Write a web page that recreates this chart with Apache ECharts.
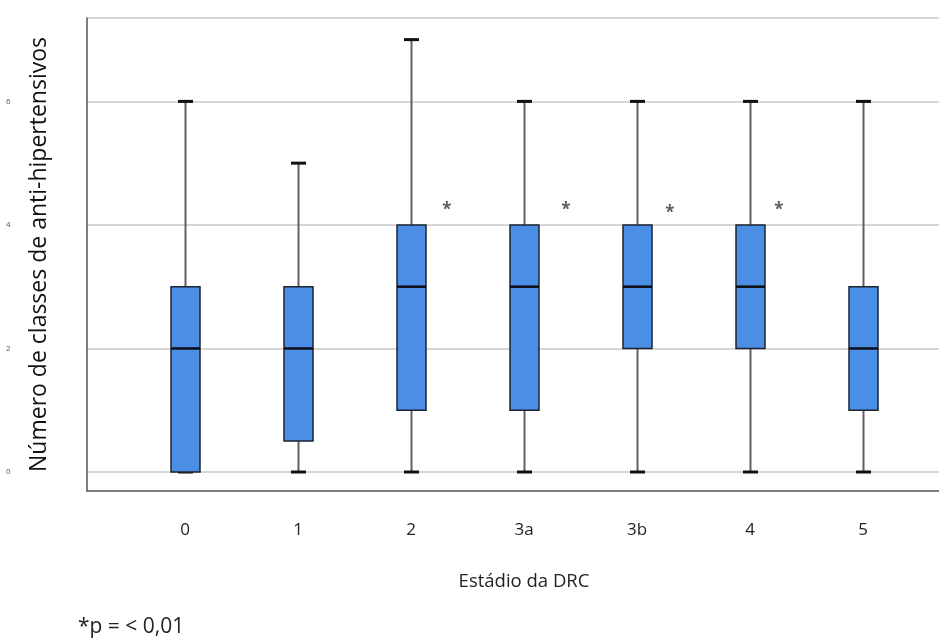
<!DOCTYPE html>
<html><head><meta charset="utf-8">
<script src="https://cdn.jsdelivr.net/npm/echarts@6/dist/echarts.min.js"></script>
<style>html,body{margin:0;padding:0;background:#fff}#c{width:939px;height:643px}</style>
</head><body><div id="c"></div>
<script>
var categories = ['0', '1', '2', '3a', '3b', '4', '5'];
var mins    = [0, 0,   0, 0, 0, 0, 0];
var q1s     = [0, 0.5, 1, 1, 2, 2, 1];
var medians = [2, 2,   3, 3, 3, 3, 2];
var q3s     = [3, 3,   4, 4, 4, 4, 3];
var maxs    = [6, 5,   7, 6, 6, 6, 6];
var starCats = ['2', '3a', '3b', '4'];
var starVals = [4.3, 4.3, 4.25, 4.3];
var yTicks = [0, 2, 4, 6];

var boxData = categories.map(function (c, i) { return [i, mins[i], q1s[i], medians[i], q3s[i], maxs[i]]; });
var starData = starCats.map(function (c, i) { return [c, starVals[i]]; });
var starOffsets = [[36, 4], [42, 4], [33, 4], [29, 4]];

var chart = echarts.init(document.getElementById('c'));
var font = '"Open Sans", "Noto Sans", sans-serif';
chart.setOption({
  animation: false,
  grid: [
    {left: 87, right: 0, top: 18, bottom: 171},
    {left: 87, right: 0, top: 18, bottom: 152},
    {left: 128.5, width: 791, top: 18, bottom: 171}
  ],
  xAxis: [
    {gridIndex: 0, type: 'value', show: false, min: 0, max: 1},
    {gridIndex: 1, type: 'value', min: 0, max: 1, axisLine: {show: true, lineStyle: {color: '#555', width: 1.5}},
     axisTick: {show: false}, axisLabel: {show: false}, splitLine: {show: false}},
    {gridIndex: 2, type: 'category', data: categories, boundaryGap: true,
     axisLine: {show: false}, axisTick: {show: false},
     axisLabel: {margin: 50, fontSize: 17, color: '#222', fontFamily: font},
     name: 'Estádio da DRC', nameLocation: 'middle', nameGap: 100,
     nameTextStyle: {fontSize: 18.5, color: '#222', fontFamily: font}}
  ],
  yAxis: [
    {gridIndex: 0, type: 'value', min: 0, max: 7.35, interval: 2,
     axisLine: {show: false}, axisTick: {show: false},
     axisLabel: {fontSize: 8, color: '#555', margin: 81, align: 'left', fontFamily: font,
       formatter: function (v) { return yTicks.indexOf(v) >= 0 ? String(v) : ''; }},
     splitLine: {show: true, lineStyle: {color: '#c8c8c8', width: 1.5}}},
    {gridIndex: 1, type: 'value', min: 0, max: 1,
     axisLine: {show: true, lineStyle: {color: '#555', width: 1.5}},
     axisTick: {show: false}, axisLabel: {show: false}, splitLine: {show: false},
     name: 'Número de classes de anti-hipertensivos', nameLocation: 'middle', nameGap: 36, nameRotate: 90,
     nameTextStyle: {fontSize: 23, color: '#111', fontFamily: font}},
    {gridIndex: 2, type: 'value', min: 0, max: 7.35, show: false}
  ],
  title: {
    text: '*p = < 0,01', left: 73, top: 612,
    textStyle: {fontSize: 21, fontWeight: 'normal', color: '#222', fontFamily: font}
  },
  series: [
    {
      type: 'custom', xAxisIndex: 2, yAxisIndex: 2, data: boxData,
      renderItem: function (params, api) {
        var x = api.value(0);
        var pMin = api.coord([x, api.value(1)]);
        var pQ1 = api.coord([x, api.value(2)]);
        var pMed = api.coord([x, api.value(3)]);
        var pQ3 = api.coord([x, api.value(4)]);
        var pMax = api.coord([x, api.value(5)]);
        var cx = Math.round(pMin[0]) + 0.5;
        var hw = 14.5, cw = 7.5;
        return {type: 'group', children: [
          {type: 'line', shape: {x1: cx, y1: pMax[1], x2: cx, y2: pQ3[1]}, style: {stroke: '#606060', lineWidth: 2}},
          {type: 'line', shape: {x1: cx, y1: pQ1[1], x2: cx, y2: pMin[1]}, style: {stroke: '#606060', lineWidth: 2}},
          {type: 'line', shape: {x1: cx - cw, y1: pMax[1], x2: cx + cw, y2: pMax[1]}, style: {stroke: '#111', lineWidth: 3}},
          {type: 'line', shape: {x1: cx - cw, y1: pMin[1], x2: cx + cw, y2: pMin[1]}, style: {stroke: '#111', lineWidth: 3}},
          {type: 'rect', shape: {x: cx - hw, y: pQ3[1], width: hw * 2, height: pQ1[1] - pQ3[1]},
           style: {fill: '#4a8ee6', stroke: '#1c2430', lineWidth: 1.5}},
          {type: 'line', shape: {x1: cx - hw, y1: pMed[1], x2: cx + hw, y2: pMed[1]}, style: {stroke: '#0d0d14', lineWidth: 2.5}}
        ]};
      }
    },
    {
      type: 'scatter', xAxisIndex: 2, yAxisIndex: 2, symbolSize: 0,
      data: starData.map(function (d, i) { return {value: d, label: {offset: starOffsets[i]}}; }),
      label: {show: true, formatter: '*', fontSize: 17, fontWeight: 'bold', color: '#333', fontFamily: font}
    }
  ]
});
</script></body></html>
